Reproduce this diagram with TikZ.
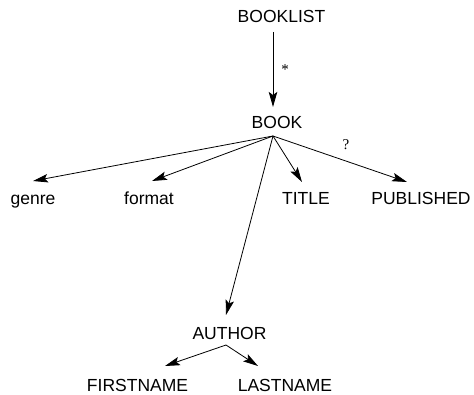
\documentclass[tikz,border=0pt]{standalone}
\usepackage{fontspec}
\setmainfont{Liberation Sans}
\newfontfamily\labfont{Liberation Serif}
\usetikzlibrary{arrows.meta,calc}
\begin{document}
\begin{tikzpicture}[x=1pt,y=-1pt,
  lbl/.style={inner sep=0pt,anchor=base,font=\fontsize{17.5}{20}\selectfont},
  edgearrow/.style={line width=0.8pt,-{Stealth[length=15pt,width=8.5pt,inset=3pt]}},
  annot/.style={font=\labfont\fontsize{15}{17}\selectfont,inner sep=0pt}]
\useasboundingbox (0,0) rectangle (474,395);
\node[lbl] (booklist) at (281.5,23) {BOOKLIST};
\node[lbl] (book) at (277,129) {BOOK};
\node[lbl] (genre) at (33,205) {genre};
\node[lbl] (format) at (149,205) {format};
\node[lbl] (title) at (306,205) {TITLE};
\node[lbl] (pub) at (421,205) {PUBLISHED};
\node[lbl] (author) at (229.5,340) {AUTHOR};
\node[lbl] (first) at (137.5,391) {FIRSTNAME};
\node[lbl] (last) at (285,391) {LASTNAME};
\draw[edgearrow] ([shift={(-8.5,9)}]booklist.base) -- ([shift={(-4,-22)}]book.base);
\node[annot] (star) at (285,70) {*};
\draw[edgearrow] ([shift={(-4,7)}]book.base) -- ([shift={(0,-24)}]genre.base);
\draw[edgearrow] ([shift={(-4,7)}]book.base) -- ([shift={(3,-24)}]format.base);
\draw[edgearrow] ([shift={(-4,7)}]book.base) -- ([shift={(-4,-23)}]title.base);
\draw[edgearrow] ([shift={(-4,7)}]book.base) -- ([shift={(-14,-23)}]pub.base);
\node[annot] (q) at (346,145) {?};
\draw[edgearrow] ([shift={(-4,7)}]book.base) -- ([shift={(-3.5,-25)}]author.base);
\draw[edgearrow] ([shift={(-3.5,5)}]author.base) -- ([shift={(27.5,-25)}]first.base);
\draw[edgearrow] ([shift={(-3.5,5)}]author.base) -- ([shift={(-27,-25)}]last.base);
\end{tikzpicture}
\end{document}
